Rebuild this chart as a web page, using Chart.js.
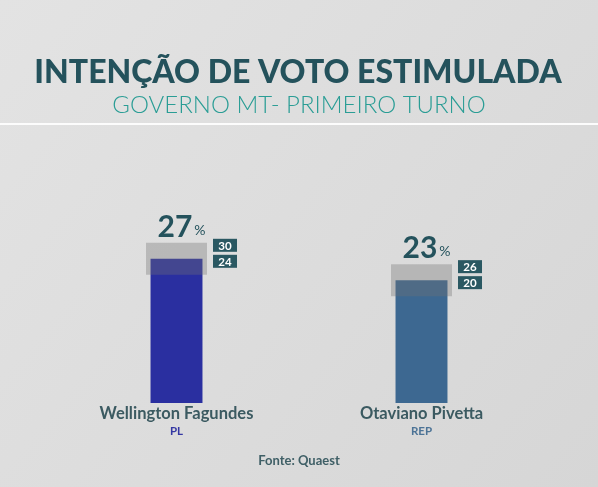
<!DOCTYPE html>
<html>
<head>
<meta charset="utf-8">
<script src="https://cdn.jsdelivr.net/npm/chart.js@4"></script>
<style>
  html, body { margin: 0; padding: 0; background: #dcdcdc; }
  canvas { display: block; }
</style>
</head>
<body>
<canvas id="myChart" width="598" height="487"></canvas>
<script>
// dados da pesquisa
const candidates = ["Wellington Fagundes", "Otaviano Pivetta"];
const parties = ["PL", "REP"];
const intencao = [27, 23];
const margemMax = [30, 26];
const margemMin = [24, 20];

const barColors = ["#2a2fa0", "#3d6891"];
const partyColors = ["#3538a3", "#4c7396"];

const textPlugin = {
  id: "textos",
  beforeDraw(chart) {
    const ctx = chart.ctx;
    const g = ctx.createLinearGradient(0, 0, 598, 487);
    g.addColorStop(0, "#e3e3e3");
    g.addColorStop(1, "#d6d6d6");
    ctx.save();
    ctx.fillStyle = g;
    ctx.fillRect(0, 0, chart.width, chart.height);
    // linha branca abaixo do titulo
    ctx.fillStyle = "rgba(255,255,255,0.9)";
    ctx.fillRect(0, 123, chart.width, 2);
    ctx.restore();
  },
  afterDraw(chart) {
    const ctx = chart.ctx;
    const y = chart.scales.y;
    const cx = chart.width / 2;
    ctx.save();
    ctx.textAlign = "center";
    ctx.textBaseline = "alphabetic";

    ctx.fillStyle = "#24525c";
    ctx.font = "900 32px Lato";
    ctx.fillText("INTENÇÃO DE VOTO ESTIMULADA", cx - 1, 83);

    ctx.fillStyle = "#2a9d95";
    ctx.font = "300 24px Lato";
    ctx.fillText("GOVERNO MT- PRIMEIRO TURNO", cx, 113);

    const bars = chart.getDatasetMeta(1).data;
    const bands = chart.getDatasetMeta(0).data;
    bars.forEach((bar, i) => {
      const x = bar.x;
      // nome e partido
      ctx.textAlign = "center";
      ctx.fillStyle = "#3b5a61";
      ctx.font = "bold 16.5px Lato";
      ctx.fillText(candidates[i], x, 419);
      ctx.fillStyle = partyColors[i];
      ctx.font = "bold 11.5px Lato";
      ctx.fillText(parties[i], x, 435);

      // valor com %
      const topY = y.getPixelForValue(margemMax[i]);
      ctx.fillStyle = "#24525c";
      ctx.font = "bold 30px Lato";
      const num = String(intencao[i]);
      const wNum = ctx.measureText(num).width;
      ctx.font = "14px Lato";
      const wPct = ctx.measureText("%").width;
      const start = x + 5 - (wNum + wPct + 2) / 2;
      ctx.textAlign = "left";
      ctx.font = "bold 30px Lato";
      ctx.fillText(num, start, topY - 6);
      ctx.font = "14px Lato";
      ctx.fillText("%", start + wNum + 2, topY - 8);

      // caixas da margem de erro
      const band = bands[i];
      const bx = band.x + band.width / 2 + 6;
      const vals = [margemMax[i], margemMin[i]];
      vals.forEach((v, k) => {
        const by = topY - 4 + k * 16;
        ctx.fillStyle = "#2a5862";
        ctx.fillRect(bx, by, 24, 13);
        ctx.fillStyle = "#ffffff";
        ctx.font = "bold 11.5px Lato";
        ctx.textAlign = "center";
        ctx.fillText(String(v), bx + 12, by + 11);
      });
    });

    ctx.textAlign = "center";
    ctx.fillStyle = "#3f5f66";
    ctx.font = "bold 13px Lato";
    ctx.fillText("Fonte: Quaest", 299, 465);
    ctx.restore();
  }
};

const ctx = document.getElementById("myChart").getContext("2d");
const myChart = new Chart(ctx, {
  type: "bar",
  data: {
    labels: candidates,
    datasets: [
      {
        label: "Margem de erro",
        data: margemMin.map((m, i) => [m, margemMax[i]]),
        backgroundColor: "rgba(115,115,115,0.35)",
        borderWidth: 0,
        grouped: false,
        order: 0,
        barPercentage: 0.249,
        categoryPercentage: 1
      },
      {
        label: "Intenção de voto",
        data: intencao,
        backgroundColor: barColors,
        borderWidth: 0,
        grouped: false,
        order: 1,
        barPercentage: 0.212,
        categoryPercentage: 1
      }
    ]
  },
  options: {
    responsive: false,
    animation: false,
    devicePixelRatio: 1,
    layout: { padding: { left: 54, right: 54, top: 136, bottom: 84 } },
    scales: {
      x: { display: false },
      y: { display: false, min: 0, max: 50 }
    },
    plugins: {
      legend: { display: false },
      tooltip: { enabled: false }
    }
  },
  plugins: [textPlugin]
});
</script>
</body>
</html>
